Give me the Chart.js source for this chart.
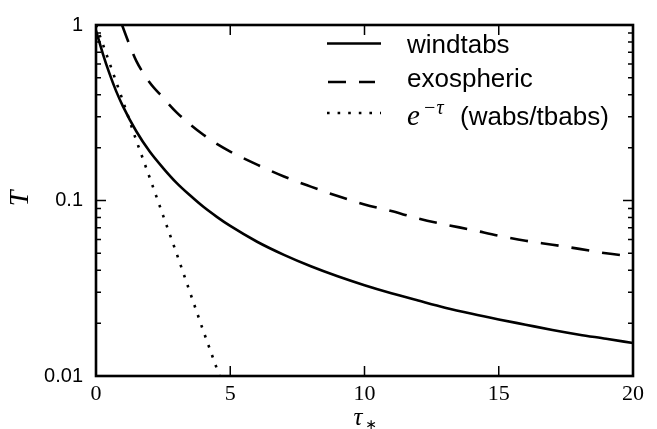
<!DOCTYPE html>
<html>
<head>
<meta charset="utf-8">
<script src="https://cdn.jsdelivr.net/npm/chart.js@4.4.1/dist/chart.umd.min.js"></script>
<style>
  html, body { margin: 0; padding: 0; background: #fff; }
  #wrap { width: 657px; height: 429px; position: relative; }
</style>
</head>
<body>
<div id="wrap"><canvas id="chart"></canvas></div>
<script>
// values
const windTau = [0, 0.25, 0.5, 0.75, 1, 1.5, 2, 2.5, 3, 3.5, 4, 4.5, 5, 6, 7, 8, 9, 10, 11, 12, 13, 14, 15, 16, 17, 18, 19, 20];
const windT   = [0.93, 0.69, 0.53, 0.42, 0.345, 0.248, 0.19, 0.153, 0.126, 0.107, 0.092, 0.0807, 0.0716, 0.0582, 0.049, 0.0422, 0.037, 0.0329, 0.0296, 0.0269, 0.0245, 0.0226, 0.021, 0.0196, 0.0183, 0.0172, 0.0163, 0.0154];

const exoTau = [0.97, 1.25, 1.5, 2, 2.5, 3, 3.5, 4, 4.5, 5, 6, 7, 8, 9, 10, 11, 12, 13, 14, 15, 16, 17, 18, 19, 20];
const exoT   = [1.0, 0.77, 0.625, 0.47, 0.385, 0.318, 0.272, 0.237, 0.21, 0.19, 0.16, 0.137, 0.12, 0.106, 0.095, 0.087, 0.079, 0.073, 0.068, 0.063, 0.059, 0.056, 0.053, 0.05, 0.048];

const expTau = [0, 0.5, 1, 1.5, 2, 2.5, 3, 3.5, 4, 4.6];
const expT   = [1.0, 0.61, 0.37, 0.22, 0.135, 0.082, 0.05, 0.03, 0.018, 0.01];

const seriesLabels = ['windtabs', 'exospheric', '(wabs/tbabs)'];
const xTicks = [0, 5, 10, 15, 20];
const xTickLabels = ['0', '5', '10', '15', '20'];
const yTicks = [0.01, 0.1, 1];
const yTickLabels = ['0.01', '0.1', '1'];
const yMinor = [0.02, 0.03, 0.04, 0.05, 0.06, 0.07, 0.08, 0.09, 0.2, 0.3, 0.4, 0.5, 0.6, 0.7, 0.8, 0.9];

const pts = (xs, ys) => xs.map((x, i) => ({ x: x, y: ys[i] }));

const SANS = '"Liberation Sans", Arial, sans-serif';
const SERIF = '"Liberation Serif", "DejaVu Serif", serif';

// frame, inward ticks, legend and axis titles
const decorations = {
    id: 'decorations',
    afterDraw(chart) {
        const ctx = chart.ctx;
        const a = chart.chartArea;
        const xs = chart.scales.x, ys = chart.scales.y;
        ctx.save();
        ctx.strokeStyle = '#000';
        ctx.lineWidth = 1.5;
        ctx.beginPath();
        xTicks.forEach(v => {
            const px = xs.getPixelForValue(v);
            ctx.moveTo(px, a.bottom); ctx.lineTo(px, a.bottom - 10);
            ctx.moveTo(px, a.top); ctx.lineTo(px, a.top + 10);
        });
        yTicks.forEach(v => {
            const py = ys.getPixelForValue(v);
            ctx.moveTo(a.left, py); ctx.lineTo(a.left + 10, py);
            ctx.moveTo(a.right, py); ctx.lineTo(a.right - 10, py);
        });
        yMinor.forEach(v => {
            const py = ys.getPixelForValue(v);
            ctx.moveTo(a.left, py); ctx.lineTo(a.left + 5, py);
            ctx.moveTo(a.right, py); ctx.lineTo(a.right - 5, py);
        });
        ctx.stroke();

        ctx.lineWidth = 2.6;
        ctx.strokeRect(a.left, a.top, a.right - a.left, a.bottom - a.top);

        // legend
        const lineY = [43.5, 82, 113];
        const textY = [52.5, 86.5, 125];
        chart.data.datasets.forEach((ds, i) => {
            ctx.beginPath();
            ctx.lineWidth = ds.borderWidth;
            ctx.lineCap = ds.borderCapStyle || 'butt';
            ctx.setLineDash(ds.borderDash || []);
            ctx.moveTo(i === 1 ? 328 : 327, lineY[i]);
            ctx.lineTo(i === 1 ? 375 : 381, lineY[i]);
            ctx.stroke();
            ctx.setLineDash([]);
            ctx.fillStyle = '#000';
            ctx.textBaseline = 'alphabetic';
            ctx.textAlign = 'left';
            if (i < 2) {
                ctx.font = '26px ' + SANS;
                ctx.fillText(seriesLabels[i], 407, textY[i]);
            } else {
                ctx.font = 'italic 29px ' + SERIF;
                ctx.fillText('e', 407, textY[i]);
                ctx.font = 'italic 20px ' + SERIF;
                ctx.fillText('\u2212\u03c4', 423, textY[i] - 11);
                ctx.font = '26px ' + SANS;
                ctx.fillText(seriesLabels[i], 460, textY[i]);
            }
        });

        // axis titles
        ctx.font = 'italic 28px ' + SERIF;
        ctx.textAlign = 'center';
        ctx.textBaseline = 'middle';
        ctx.save();
        ctx.translate(21, (a.top + a.bottom) / 2 - 2);
        ctx.rotate(-Math.PI / 2);
        ctx.fillText('T', 0, 0);
        ctx.restore();

        const cx = xs.getPixelForValue(10);
        ctx.textBaseline = 'alphabetic';
        ctx.textAlign = 'left';
        ctx.font = 'italic 25px ' + SERIF;
        ctx.fillText('\u03c4', cx - 11, 425);
        ctx.font = '14px "DejaVu Sans", sans-serif';
        ctx.textBaseline = 'middle';
        ctx.fillText('\u2217', cx + 1, 425);
        ctx.restore();
    }
};

new Chart(document.getElementById('chart'), {
    type: 'line',
    data: {
        datasets: [
            { label: seriesLabels[0], data: pts(windTau, windT), borderColor: '#000', borderWidth: 2.6,
              pointRadius: 0, fill: false, cubicInterpolationMode: 'monotone' },
            { label: seriesLabels[1], data: pts(exoTau, exoT), borderColor: '#000', borderWidth: 2.6,
              borderDash: [18, 13], pointRadius: 0, fill: false, cubicInterpolationMode: 'monotone' },
            { label: seriesLabels[2], data: pts(expTau, expT), borderColor: '#000', borderWidth: 2.6,
              borderDash: [2.6, 8], borderCapStyle: 'butt', pointRadius: 0, fill: false }
        ]
    },
    options: {
        responsive: true,
        maintainAspectRatio: false,
        animation: false,
        layout: { padding: { top: 11, right: 24, left: 0, bottom: 0 } },
        plugins: { legend: { display: false }, tooltip: { enabled: false } },
        scales: {
            x: {
                type: 'linear', min: 0, max: 20,
                afterBuildTicks: s => { s.ticks = xTicks.map(v => ({ value: v })); },
                afterFit: s => { s.height = 53; },
                ticks: { callback: (v, i) => xTickLabels[i], color: '#000', padding: 5,
                         maxRotation: 0, font: { family: SERIF, size: 22 } },
                grid: { display: false, drawTicks: false },
                border: { display: false }
            },
            y: {
                type: 'logarithmic', min: 0.01, max: 1,
                afterBuildTicks: s => { s.ticks = yTicks.map(v => ({ value: v })); },
                afterFit: s => { s.width = 96; },
                ticks: { callback: (v, i) => yTickLabels[i], color: '#000', padding: 13,
                         font: { family: SANS, size: 20 } },
                grid: { display: false, drawTicks: false },
                border: { display: false }
            }
        }
    },
    plugins: [decorations]
});
</script>
</body>
</html>
